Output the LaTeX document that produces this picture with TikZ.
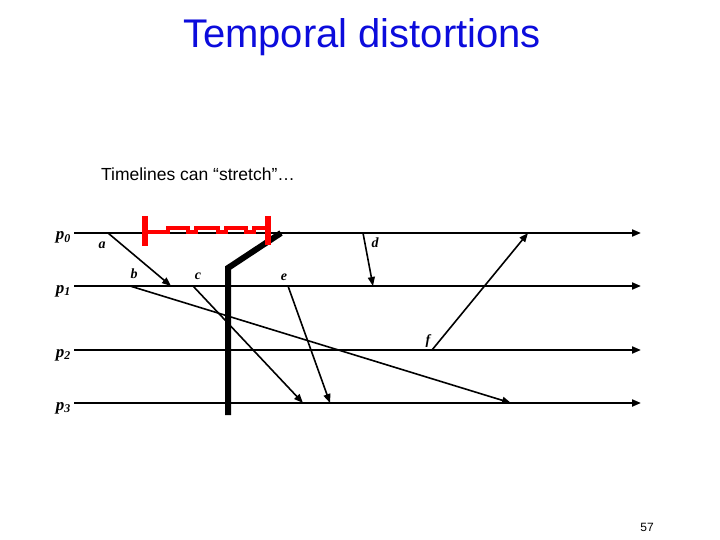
\documentclass[tikz,border=0pt]{standalone}
\usepackage{fontspec}
\setmainfont{Liberation Serif}
\setsansfont{Liberation Sans}
\usetikzlibrary{positioning,arrows.meta}
\definecolor{titleblue}{RGB}{12,12,220}

\begin{document}
\begin{tikzpicture}[x=1pt,y=-1pt,
		>={Triangle[length=9pt,width=7pt]},
		timeline/.style={line width=2pt, ->},
		msg/.style={line width=1.6pt, ->},
		proclabel/.style={font=\bfseries\itshape\fontsize{17}{17}\selectfont, inner sep=0pt},
		evlabel/.style={font=\bfseries\itshape\fontsize{14}{14}\selectfont, inner sep=0pt},
		cutline/.style={line width=6pt, line join=miter},
		stretchline/.style={red, line width=4pt},
		stretchbar/.style={red, line width=5.5pt}
	]
	\useasboundingbox (0,0) rectangle (720,540);

	\node[font=\sffamily\fontsize{40}{40}\selectfont, text=titleblue] (title) at (362,37) {Temporal distortions};
	\node[font=\sffamily\fontsize{17.5}{17.5}\selectfont] (subtitle) at (198,174) {Timelines can “stretch”…};

	% timelines
	\foreach \i/\y in {0/233, 1/286, 2/350, 3/403} {
		\coordinate (s\i) at (74,\y);
		\coordinate (t\i) at (641,\y);
		\draw[timeline] (s\i) -- (t\i);
		\node[proclabel, anchor=base east] (p\i) at (71,240) [yshift={233-\y}] {p\textsubscript{\i}};
	}

	% events
	\coordinate (a0) at (108,233);
	\coordinate (a1) at (171,286);
	\coordinate (b1) at (130,286);
	\coordinate (b3) at (511,403);
	\coordinate (c1) at (193,286);
	\coordinate (c3) at (303,403);
	\coordinate (d0) at (363,233);
	\coordinate (d1) at (373,286);
	\coordinate (e1) at (288,286);
	\coordinate (e3) at (330,403);
	\coordinate (f2) at (432,350);
	\coordinate (f0) at (528,233);

	\draw[msg] (a0) -- (a1);
	\draw[msg] (b1) -- (b3);
	\draw[msg] (c1) -- (c3);
	\draw[msg] (d0) -- (d1);
	\draw[msg] (e1) -- (e3);
	\draw[msg] (f2) -- (f0);

	\node[evlabel] (la) at (102,245) {a};
	\node[evlabel] (lb) at (134,274) {b};
	\node[evlabel] (lc) at (198,276) {c};
	\node[evlabel] (ld) at (375,243) {d};
	\node[evlabel] (le) at (284,277) {e};
	\node[evlabel] (lf) at (428,341) {f};

	% the cut
	\coordinate (cutlow) at (228,415);
	\coordinate (cutbend) at (228,268);
	\coordinate (cuthigh) at (281,233);
	\draw[cutline] (cutlow) -- (cutbend) -- (cuthigh);

	% stretched interval
	\coordinate (barl) at (145,216);
	\coordinate (barlb) at (145,246);
	\coordinate (barr) at (268,216);
	\coordinate (barrb) at (268,245);
	\draw[stretchbar] (barl) -- (barlb);
	\draw[stretchbar] (barr) -- (barrb);
	\draw[stretchline] (145,232) -- (168,232) -- (168,228) -- (188,228) -- (188,232) -- (196,232)
		-- (196,228) -- (218,228) -- (218,232) -- (226,232) -- (226,228) -- (246,228)
		-- (246,232) -- (254,232) -- (254,228) -- (268,228);

	\node[font=\sffamily\fontsize{12}{12}\selectfont] (page) at (647,527) {57};
\end{tikzpicture}
\end{document}
